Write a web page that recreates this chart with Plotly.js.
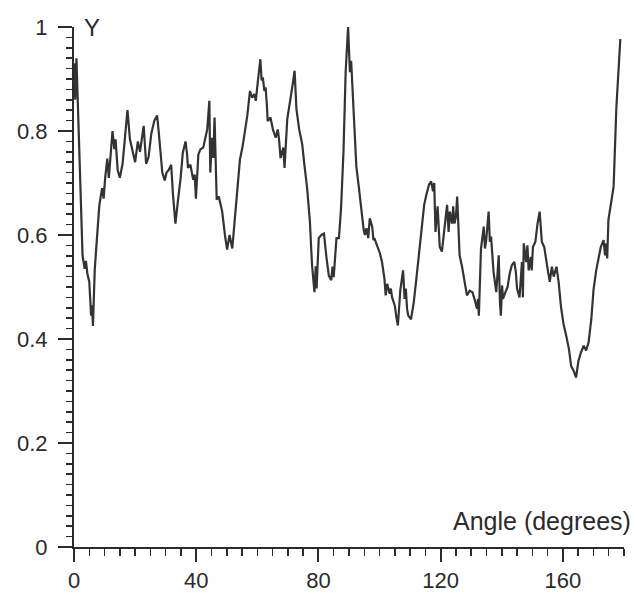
<!DOCTYPE html>
<html>
<head>
<meta charset="utf-8">
<script src="https://cdn.plot.ly/plotly-3.0.1.min.js"></script>
<style>
  html, body { margin: 0; padding: 0; background: #ffffff; }
  #chart { width: 635px; height: 597px; }
</style>
</head>
<body>
<div id="chart"></div>
<script>
// Angle (degrees) values of the trace vertices
const angles = [
  0, 0.4, 0.8, 1.3, 2.1, 2.8, 3.5, 3.9, 4.4, 5.0, 5.6, 5.9, 6.2, 6.8, 7.5, 8.3, 9.2, 9.7, 10.2, 10.9,
  11.4, 11.9, 12.6, 13.2, 13.6, 14.3, 15.0, 15.9, 16.7, 17.5, 18.3, 19.2, 20.0, 20.9, 21.6, 22.8, 23.6, 24.4, 25.3, 26.3,
  27.2, 27.7, 28.3, 28.9, 29.7, 30.3, 31.0, 31.8, 32.4, 33.2, 34.0, 34.9, 35.6, 36.5, 37.0, 37.3, 38.1, 39.0, 39.5, 39.9,
  40.7, 41.4, 42.3, 43.0, 43.6, 44.3, 44.6, 45.2, 45.6, 46.0, 46.7, 47.4, 48.5, 49.4, 50.1, 50.9, 51.4, 51.8, 52.5, 53.4,
  54.3, 55.2, 55.9, 56.7, 57.6, 58.3, 59.0, 59.5, 60.2, 61.0, 61.4, 61.8, 62.3, 62.7, 63.1, 63.4, 64.3, 65.1, 66.0, 66.7,
  67.1, 67.6, 68.5, 68.9, 69.8, 70.6, 71.5, 72.2, 72.8, 73.7, 74.7, 75.4, 76.3, 77.2, 77.9, 78.7, 79.1, 79.4, 80.1, 80.9,
  81.8, 82.6, 83.4, 84.2, 84.6, 85.0, 85.5, 85.9, 86.7, 87.4, 88.2, 88.9, 89.7, 90.3, 90.7, 91.6, 92.4, 93.2, 94.1, 94.8,
  95.2, 95.7, 96.3, 96.8, 97.6, 98.0, 98.3, 99.2, 100.1, 100.8, 101.6, 102.0, 102.5, 103.3, 103.7, 104.1, 105.0, 105.5, 106.0, 106.8,
  107.7, 108.2, 108.6, 109.0, 109.4, 110.3, 111.2, 112.0, 112.8, 113.7, 114.6, 115.3, 116.2, 116.9, 117.5, 117.9, 118.3, 119.0, 119.4, 119.7,
  120.4, 121.2, 122.1, 122.6, 123.0, 123.7, 124.1, 124.5, 125.0, 125.4, 126.2, 127.0, 127.7, 128.6, 129.5, 130.4, 131.2, 131.9, 132.2, 132.5,
  133.2, 134.1, 134.5, 134.9, 135.7, 136.1, 136.5, 137.3, 138.2, 138.6, 139.0, 139.4, 139.7, 140.1, 140.4, 141.2, 141.9, 142.6, 143.3, 144.1,
  144.6, 145.0, 145.8, 146.6, 146.9, 147.2, 148.0, 148.4, 148.8, 149.5, 149.8, 150.2, 151.0, 151.7, 152.4, 153.1, 153.9, 154.8, 155.7, 156.4,
  157.0, 157.9, 158.6, 159.4, 160.2, 161.1, 162.0, 162.7, 163.5, 164.3, 165.1, 165.9, 166.8, 167.6, 168.4, 169.3, 170.0, 170.9, 171.7, 172.4,
  173.3, 173.8, 174.2, 174.5, 174.9, 175.7, 176.6, 177.5, 178.8
];
// Y values of the trace vertices
const yValues = [
  0.93, 0.86, 0.94, 0.84, 0.67, 0.56, 0.535, 0.55, 0.525, 0.51, 0.445, 0.465, 0.425, 0.535, 0.593, 0.658, 0.69, 0.67, 0.71, 0.747,
  0.71, 0.757, 0.80, 0.765, 0.784, 0.725, 0.71, 0.737, 0.795, 0.84, 0.784, 0.757, 0.74, 0.78, 0.76, 0.81, 0.737, 0.75, 0.795, 0.82,
  0.83, 0.80, 0.75, 0.72, 0.705, 0.72, 0.725, 0.735, 0.677, 0.622, 0.665, 0.71, 0.758, 0.78, 0.755, 0.729, 0.735, 0.706, 0.716, 0.67,
  0.755, 0.765, 0.768, 0.784, 0.803, 0.858, 0.72, 0.787, 0.748, 0.826, 0.668, 0.674, 0.645, 0.60, 0.572, 0.60, 0.584, 0.574, 0.622, 0.69,
  0.745, 0.771, 0.797, 0.829, 0.877, 0.864, 0.871, 0.858, 0.897, 0.938, 0.897, 0.903, 0.877, 0.884, 0.852, 0.819, 0.826, 0.803, 0.787, 0.803,
  0.784, 0.748, 0.768, 0.729, 0.823, 0.858, 0.887, 0.916, 0.842, 0.803, 0.774, 0.735, 0.69, 0.626, 0.542, 0.49, 0.54, 0.497, 0.594, 0.60,
  0.603, 0.558, 0.522, 0.513, 0.539, 0.519, 0.558, 0.594, 0.594, 0.652, 0.761, 0.913, 1.0, 0.913, 0.935, 0.813, 0.732, 0.693, 0.642, 0.61,
  0.60, 0.613, 0.594, 0.632, 0.616, 0.59, 0.594, 0.58, 0.565, 0.548, 0.516, 0.484, 0.506, 0.487, 0.497, 0.48, 0.464, 0.442, 0.426, 0.494,
  0.532, 0.477, 0.497, 0.458, 0.445, 0.438, 0.471, 0.513, 0.561, 0.613, 0.658, 0.677, 0.697, 0.703, 0.684, 0.70, 0.606, 0.655, 0.606, 0.577,
  0.568, 0.613, 0.658, 0.606, 0.645, 0.622, 0.655, 0.622, 0.635, 0.674, 0.561, 0.539, 0.516, 0.484, 0.493, 0.49, 0.474, 0.458, 0.477, 0.445,
  0.574, 0.616, 0.574, 0.59, 0.645, 0.587, 0.597, 0.529, 0.49, 0.532, 0.561, 0.471, 0.445, 0.503, 0.477, 0.49, 0.50, 0.526, 0.542, 0.548,
  0.529, 0.497, 0.48, 0.548, 0.48, 0.584, 0.548, 0.58, 0.532, 0.558, 0.532, 0.577, 0.587, 0.622, 0.645, 0.587, 0.577, 0.542, 0.51, 0.539,
  0.52, 0.539, 0.51, 0.461, 0.429, 0.406, 0.38, 0.348, 0.339, 0.326, 0.358, 0.374, 0.387, 0.378, 0.393, 0.438, 0.493, 0.532, 0.558, 0.577,
  0.59, 0.561, 0.584, 0.555, 0.629, 0.664, 0.693, 0.845, 0.977
];

const xTickVals = [0, 40, 80, 120, 160];
const xTickText = ["0", "40", "80", "120", "160"];
const yTickVals = [0, 0.2, 0.4, 0.6, 0.8, 1];
const yTickText = ["0", "0.2", "0.4", "0.6", "0.8", "1"];

const FONT = '"Liberation Sans", Arial, sans-serif';
const INK = '#2b2b2b';

const trace = {
  x: angles,
  y: yValues,
  type: 'scatter',
  mode: 'lines',
  line: { color: '#333333', width: 2.2 },
  hoverinfo: 'skip'
};

const layout = {
  width: 635,
  height: 597,
  margin: { l: 74, r: 11, t: 27, b: 50 },
  paper_bgcolor: '#ffffff',
  plot_bgcolor: '#ffffff',
  showlegend: false,
  font: { family: FONT, size: 23, color: INK },
  xaxis: {
    range: [0, 180],
    tickmode: 'array',
    tickvals: xTickVals,
    ticktext: xTickText,
    ticks: 'outside',
    ticklen: 13,
    tickwidth: 2,
    tickcolor: INK,
    ticklabelstandoff: 0,
    minor: { dtick: 5, tick0: 0, ticks: 'outside', ticklen: 7, tickwidth: 1.5, tickcolor: INK, showgrid: false },
    showline: true,
    linecolor: INK,
    linewidth: 2,
    showgrid: false,
    zeroline: false,
    tickfont: { family: FONT, size: 22, color: INK },
    fixedrange: true
  },
  yaxis: {
    range: [0, 1],
    tickmode: 'array',
    tickvals: yTickVals,
    ticktext: yTickText,
    ticks: 'outside',
    ticklen: 14,
    tickwidth: 2,
    tickcolor: INK,
    ticklabelstandoff: 6,
    minor: { dtick: 0.02, tick0: 0, ticks: 'outside', ticklen: 6, tickwidth: 1.5, tickcolor: INK, showgrid: false },
    showline: true,
    linecolor: INK,
    linewidth: 2,
    showgrid: false,
    zeroline: false,
    tickfont: { family: FONT, size: 22, color: INK },
    fixedrange: true
  },
  annotations: [
    {
      text: 'Y',
      xref: 'paper', yref: 'paper',
      x: 0, y: 1,
      xanchor: 'left', yanchor: 'middle',
      xshift: 8, yshift: 0,
      showarrow: false,
      font: { family: FONT, size: 24, color: INK }
    },
    {
      text: 'Angle (degrees)',
      xref: 'paper', yref: 'paper',
      x: 1, y: 0,
      xanchor: 'right', yanchor: 'bottom',
      xshift: 9, yshift: 10,
      showarrow: false,
      font: { family: FONT, size: 25, color: INK }
    }
  ]
};

Plotly.newPlot('chart', [trace], layout, { displayModeBar: false, staticPlot: true });
</script>
</body>
</html>
